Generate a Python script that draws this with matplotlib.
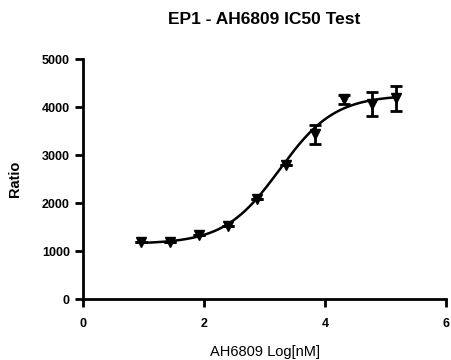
import numpy as np
import matplotlib
matplotlib.use("Agg")
import matplotlib.pyplot as plt

plt.rcParams['font.family'] = ['Liberation Sans', 'DejaVu Sans']

# data
log_conc = [0.96, 1.44, 1.92, 2.40, 2.88, 3.36, 3.83, 4.31, 4.78, 5.18]
ratio = [1200, 1195, 1330, 1530, 2080, 2790, 3430, 4160, 4055, 4180]
ratio_err = [0, 0, 0, 0, 0, 0, 195, 100, 250, 257]

# 4PL fit parameters (estimated)
bottom = 1150
top = 4250
log_ic50 = 3.25
hill = 0.95

fig = plt.figure(figsize=(4.51, 3.6), dpi=100)
ax = fig.add_axes([0.184, 0.169, 0.805, 0.667])

xf = np.linspace(min(log_conc), max(log_conc), 200)
yf = bottom + (top - bottom) / (1 + 10 ** ((log_ic50 - xf) * hill))
ax.plot(xf, yf, color='black', lw=1.8, zorder=2)

ax.errorbar(log_conc, ratio, yerr=ratio_err, fmt='v', color='black',
            ms=7.5, capsize=4.5, capthick=2, elinewidth=2, zorder=3)

ax.set_xlim(0, 6)
ax.set_ylim(0, 5000)
ax.set_xticks([0, 2, 4, 6])
ax.set_yticks([0, 1000, 2000, 3000, 4000, 5000])
for s in ['top', 'right']:
    ax.spines[s].set_visible(False)
for s in ['left', 'bottom']:
    ax.spines[s].set_linewidth(2)
ax.tick_params(width=2, length=5.5, labelsize=9)
ax.tick_params(axis='x', pad=8)
ax.tick_params(axis='y', pad=4)
for lbl in ax.get_xticklabels() + ax.get_yticklabels():
    lbl.set_fontweight('bold')

ax.set_title('EP1 - AH6809 IC50 Test', fontsize=12.5, fontweight='bold', pad=25)
ax.set_xlabel('AH6809 Log[nM]', fontsize=10.5, labelpad=11)
ax.set_ylabel('Ratio', fontsize=10.5, fontweight='bold', labelpad=14)

fig.savefig('out.png', dpi=100)
